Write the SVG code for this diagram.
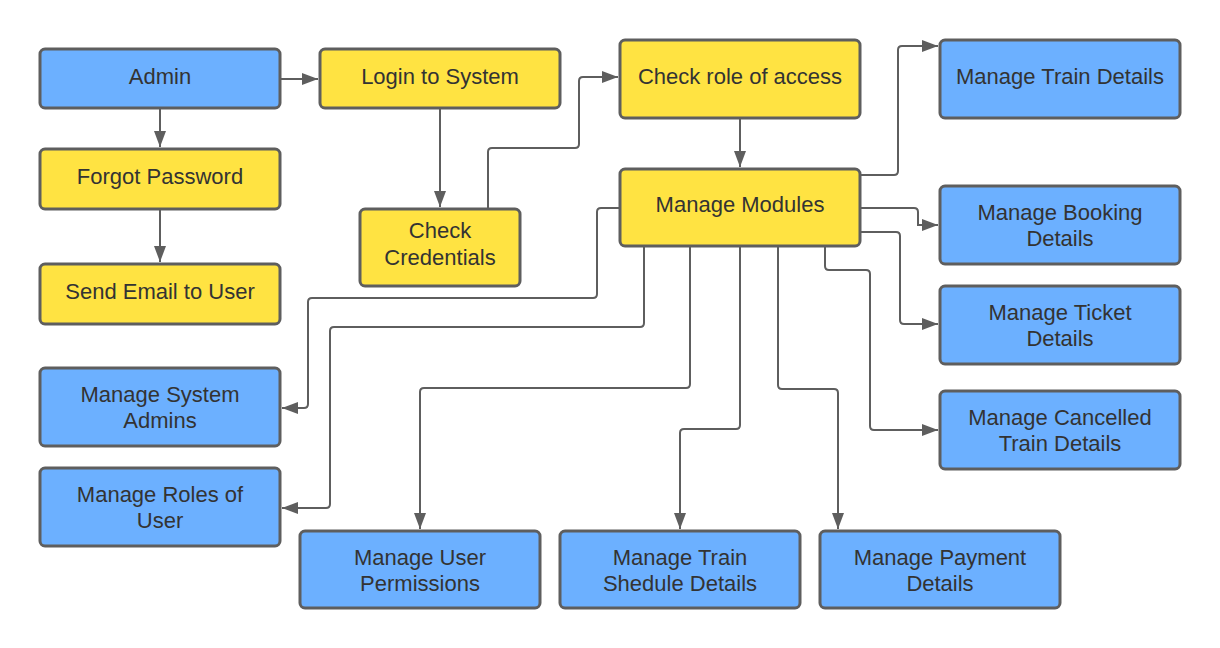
<svg xmlns="http://www.w3.org/2000/svg" width="1220" height="648" viewBox="0 0 1220 648">
<style>
.blue{fill:#6CB0FF;stroke:#5E5E5E;stroke-width:3}
.yel{fill:#FFE342;stroke:#5E5E5E;stroke-width:3}
.t{font-family:"Liberation Sans",Arial,sans-serif;font-size:22px;fill:#333333;text-anchor:middle}
.c{fill:none;stroke:#5E5E5E;stroke-width:2;marker-end:url(#ah)}
</style>
<defs>
<marker id="ah" viewBox="0 0 16 12" refX="16" refY="6" markerWidth="16" markerHeight="12" markerUnits="userSpaceOnUse" orient="auto">
<path d="M0,0 L16,6 L0,12 z" fill="#5E5E5E"/>
</marker>
</defs>
<rect width="1220" height="648" fill="#FFFFFF"/>
<g id="connectors">
<path class="c" d="M280,79 H318"/>
<path class="c" d="M160,108 V147"/>
<path class="c" d="M160,209 V262"/>
<path class="c" d="M440,108 V207"/>
<path class="c" d="M488,209 V152 Q488,148 492,148 H575 Q579,148 579,144 V81 Q579,77 583,77 H618"/>
<path class="c" d="M740,118 V167"/>
<path class="c" d="M860,175 H894 Q898,175 898,171 V50 Q898,46 902,46 H938"/>
<path class="c" d="M860,208 H914 Q918,208 918,212 V225 H938"/>
<path class="c" d="M860,232 H896 Q900,232 900,236 V320 Q900,324 904,324 H938"/>
<path class="c" d="M825,246 V266 Q825,270 829,270 H866 Q870,270 870,274 V426 Q870,430 874,430 H938"/>
<path class="c" d="M620,208 H601 Q597,208 597,212 V294 Q597,298 593,298 H312 Q308,298 308,302 V404 Q308,408 304,408 H282"/>
<path class="c" d="M644,246 V323 Q644,327 640,327 H334 Q330,327 330,331 V504 Q330,508 326,508 H282"/>
<path class="c" d="M690,246 V384 Q690,388 686,388 H424 Q420,388 420,392 V529"/>
<path class="c" d="M740,246 V425 Q740,429 736,429 H684 Q680,429 680,433 V529"/>
<path class="c" d="M778,246 V385 Q778,389 782,389 H834 Q838,389 838,393 V529"/>
</g>
<g id="admin"><rect class="blue" x="40" y="49" width="240" height="59" rx="5"/><text class="t" x="160" y="84">Admin</text></g>
<g id="login"><rect class="yel" x="320" y="49" width="240" height="59" rx="5"/><text class="t" x="440" y="84">Login to System</text></g>
<g id="forgot"><rect class="yel" x="40" y="149" width="240" height="60" rx="5"/><text class="t" x="160" y="184">Forgot Password</text></g>
<g id="sendEmail"><rect class="yel" x="40" y="264" width="240" height="60" rx="5"/><text class="t" x="160" y="299">Send Email to User</text></g>
<g id="checkCred"><rect class="yel" x="360" y="209" width="160" height="77" rx="5"/><text class="t" x="440" y="238">Check</text><text class="t" x="440" y="265">Credentials</text></g>
<g id="checkRole"><rect class="yel" x="620" y="40" width="240" height="78" rx="5"/><text class="t" x="740" y="84">Check role of access</text></g>
<g id="manageModules"><rect class="yel" x="620" y="169" width="240" height="77" rx="5"/><text class="t" x="740" y="212">Manage Modules</text></g>
<g id="trainDetails"><rect class="blue" x="940" y="40" width="240" height="78" rx="5"/><text class="t" x="1060" y="84">Manage Train Details</text></g>
<g id="bookingDetails"><rect class="blue" x="940" y="186" width="240" height="78" rx="5"/><text class="t" x="1060" y="220">Manage Booking</text><text class="t" x="1060" y="246">Details</text></g>
<g id="ticketDetails"><rect class="blue" x="940" y="286" width="240" height="78" rx="5"/><text class="t" x="1060" y="320">Manage Ticket</text><text class="t" x="1060" y="346">Details</text></g>
<g id="cancelledDetails"><rect class="blue" x="940" y="391" width="240" height="78" rx="5"/><text class="t" x="1060" y="425">Manage Cancelled</text><text class="t" x="1060" y="451">Train Details</text></g>
<g id="systemAdmins"><rect class="blue" x="40" y="368" width="240" height="78" rx="5"/><text class="t" x="160" y="402">Manage System</text><text class="t" x="160" y="428">Admins</text></g>
<g id="rolesOfUser"><rect class="blue" x="40" y="468" width="240" height="78" rx="5"/><text class="t" x="160" y="502">Manage Roles of</text><text class="t" x="160" y="528">User</text></g>
<g id="userPermissions"><rect class="blue" x="300" y="531" width="240" height="77" rx="5"/><text class="t" x="420" y="565">Manage User</text><text class="t" x="420" y="591">Permissions</text></g>
<g id="trainSchedule"><rect class="blue" x="560" y="531" width="240" height="77" rx="5"/><text class="t" x="680" y="565">Manage Train</text><text class="t" x="680" y="591">Shedule Details</text></g>
<g id="paymentDetails"><rect class="blue" x="820" y="531" width="240" height="77" rx="5"/><text class="t" x="940" y="565">Manage Payment</text><text class="t" x="940" y="591">Details</text></g>
</svg>
